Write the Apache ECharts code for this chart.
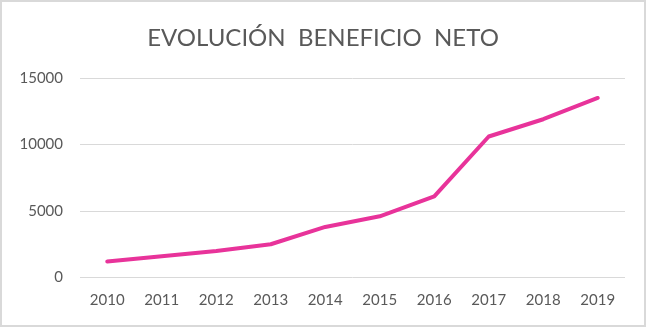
<!DOCTYPE html>
<html>
<head>
<meta charset="utf-8">
<script src="https://cdn.jsdelivr.net/npm/echarts@6/dist/echarts.min.js"></script>
<style>
html,body{margin:0;padding:0;background:#fff;}
#wrap{position:absolute;left:0;top:0;width:646px;height:327px;box-sizing:border-box;border:2px solid #d9d9d9;}
#chart{position:absolute;left:0;top:0;width:646px;height:327px;}
</style>
</head>
<body>
<div id="wrap"></div>
<div id="chart"></div>
<script>
const categories = ['2010','2011','2012','2013','2014','2015','2016','2017','2018','2019'];
const beneficioNeto = [1200, 1600, 2000, 2500, 3800, 4600, 6100, 10600, 11900, 13500];
const yTicks = [0, 5000, 10000, 15000];

const chart = echarts.init(document.getElementById('chart'), null, {renderer:'canvas'});
chart.setOption({
  animation: false,
  title: {
    text: 'EVOLUCIÓN  BENEFICIO  NETO',
    left: 'center',
    top: 21,
    textStyle: {fontFamily: 'Lato, "Open Sans", sans-serif', fontWeight: 'normal', fontSize: 24, color: '#595959'}
  },
  grid: {left: 80, right: 21, top: 78, bottom: 49.5},
  xAxis: {
    type: 'category',
    data: categories,
    boundaryGap: true,
    axisLine: {show: false},
    axisTick: {show: false},
    axisLabel: {color: '#595959', fontSize: 15, fontFamily: 'Lato, "Open Sans", sans-serif', margin: 15}
  },
  yAxis: {
    type: 'value',
    min: yTicks[0],
    max: yTicks[yTicks.length-1],
    interval: 5000,
    axisLine: {show: false},
    axisTick: {show: false},
    splitLine: {lineStyle: {color: '#d9d9d9', width: 1}},
    axisLabel: {color: '#595959', fontSize: 15, fontFamily: 'Lato, "Open Sans", sans-serif', margin: 17,
      formatter: function (v) { return String(v); }}
  },
  series: [{
    type: 'line',
    data: beneficioNeto,
    symbol: 'none',
    lineStyle: {color: '#E8339A', width: 4, cap: 'round', join: 'round'}
  }]
});
</script>
</body>
</html>
